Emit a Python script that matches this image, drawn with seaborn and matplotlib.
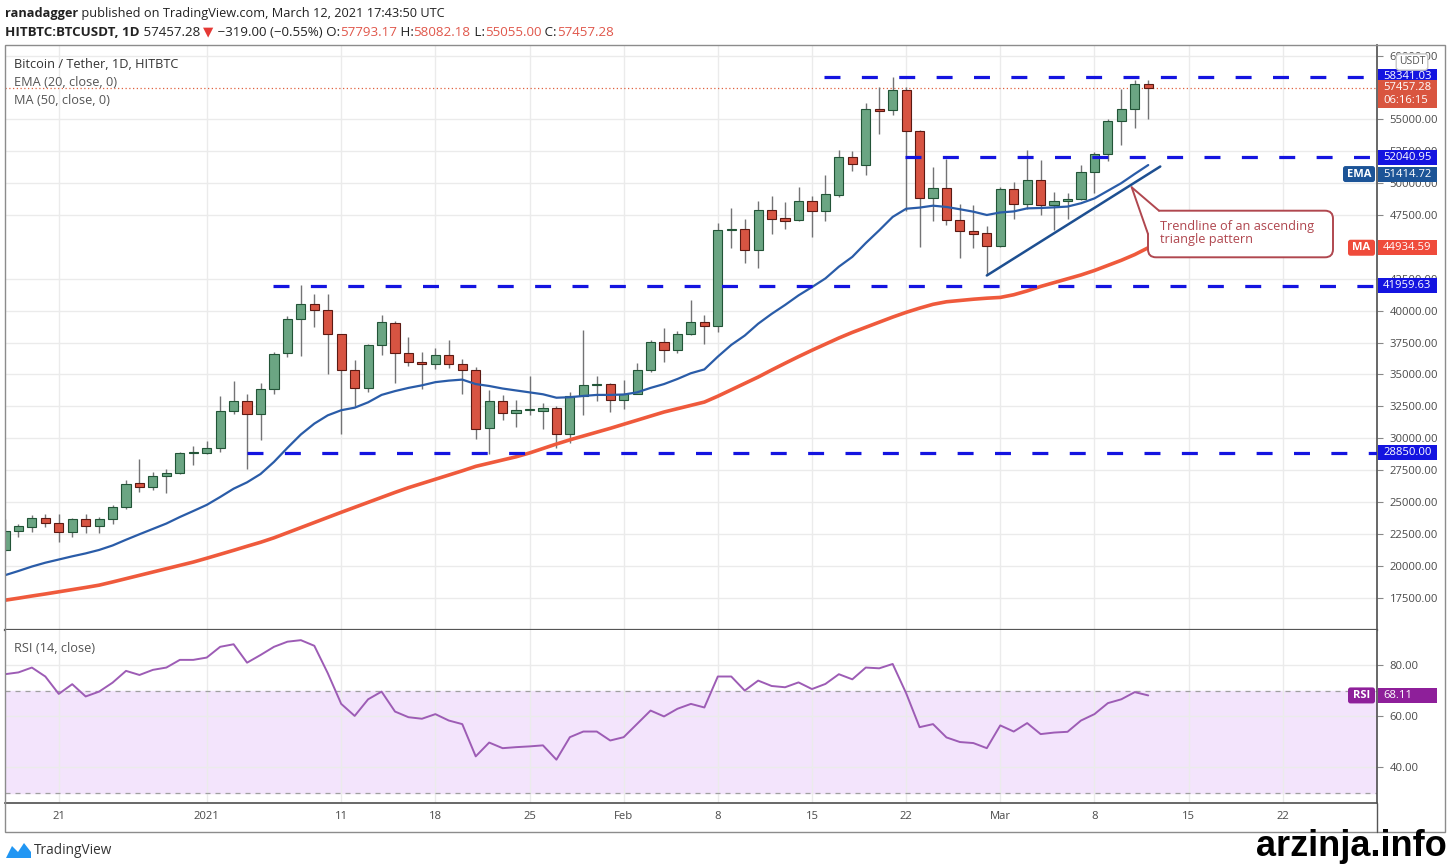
import numpy as np
import pandas as pd
import matplotlib
matplotlib.use("Agg")
import matplotlib.pyplot as plt
import matplotlib.dates as mdates
import matplotlib.transforms as mtransforms
from matplotlib.patches import FancyBboxPatch, Polygon, Rectangle
from matplotlib.lines import Line2D
import seaborn as sns

W, H = 1451, 864
FONT = ["Open Sans", "DejaVu Sans"]

sns.set_theme(style="white")
plt.rcParams["font.family"] = FONT

# daily candles HITBTC:BTCUSDT
dates = pd.date_range("2020-12-17", "2021-03-12", freq="D")
opens = [21230, 22700, 23060, 23790, 23370, 22620, 23710, 23130, 23710, 24610,
         26490, 26180, 27020, 27280, 28880, 28850, 29240, 32110, 32900, 31880,
         33890, 36680, 39370, 40540, 40070, 38140, 35320, 33970, 37280, 39030,
         36710, 35980, 35790, 36550, 35790, 35380, 30810, 32920, 31980, 32190,
         32140, 32400, 30370, 33290, 34150, 34230, 32980, 33500, 35320, 37540,
         36890, 38200, 39110, 38770, 46290, 46420, 44720, 47900, 47250, 47120,
         48560, 47800, 49030, 52030, 51430, 55820, 55740, 57310, 54050, 48820,
         49630, 47070, 46230, 46080, 45060, 49550, 48370, 50270, 48300, 48610,
         48770, 50900, 52280, 54850, 55820, 57793.17]
highs = [23700, 23300, 24000, 24050, 24030, 23760, 24030, 23840, 24740, 26700,
         28360, 27350, 27570, 28950, 29430, 29800, 33290, 34500, 33500, 34330,
         36800, 39600, 41980, 41330, 41330, 38200, 36100, 37400, 39700, 39200,
         37900, 36800, 37100, 37700, 36200, 35600, 33760, 33400, 33000, 34850,
         32800, 32560, 33600, 38460, 34900, 34300, 34600, 35900, 37700, 38640,
         38400, 40860, 39700, 46850, 48060, 47210, 48620, 49000, 48500, 49700,
         49000, 50600, 52600, 52540, 56270, 57510, 58290, 57500, 54200, 51300,
         51900, 48370, 48300, 46600, 49700, 50100, 52600, 51800, 49300, 49200,
         51400, 52400, 55000, 57400, 58100, 58082.18]
lows = [21150, 22270, 22670, 23060, 21880, 22300, 22560, 22600, 23320, 24480,
        25800, 25980, 25750, 27200, 27900, 28800, 28900, 31900, 27630, 29840,
        33500, 36400, 36420, 38700, 35010, 30370, 32500, 33600, 36500, 34300,
        35700, 33900, 35400, 35500, 33500, 29980, 28800, 31400, 30900, 31800,
        30700, 29240, 29600, 31800, 32900, 32100, 32300, 33450, 35200, 35970,
        36700, 38060, 37400, 38300, 44930, 43700, 43350, 46020, 46400, 47000,
        45740, 47000, 48900, 50910, 50650, 53860, 55370, 47800, 44980, 47000,
        46700, 44100, 44900, 42760, 45000, 47200, 48000, 47500, 46300, 47200,
        48700, 49200, 51700, 53000, 54300, 55055.00]
closes = [22740, 23110, 23790, 23370, 22620, 23710, 23130, 23650, 24610, 26440,
          26180, 27020, 27310, 28880, 28960, 29270, 32110, 32900, 31880, 33890,
          36630, 39370, 40540, 40070, 38140, 35320, 33970, 37280, 39110, 36710,
          35980, 35790, 36550, 35790, 35380, 30760, 32920, 31980, 32190, 32300,
          32400, 30370, 33290, 34150, 34290, 33030, 33500, 35380, 37540, 36890,
          38200, 39110, 38770, 46350, 46420, 44720, 47900, 47200, 47010, 48560,
          47800, 49160, 52030, 51510, 55820, 55680, 57310, 54050, 48820, 49630,
          47070, 46230, 46030, 45060, 49550, 48370, 50270, 48300, 48610, 48770,
          50900, 52280, 54850, 55820, 57730, 57457.28]

# indicators as drawn on the chart
ema20 = [19270, 19600, 19950, 20250, 20500, 20750, 20980, 21250, 21600, 22050,
         22480, 22900, 23320, 23830, 24300, 24780, 25400, 26050, 26550, 27200,
         28150, 29250, 30300, 31150, 31800, 32200, 32400, 32820, 33400, 33700,
         33950, 34150, 34400, 34520, 34600, 34250, 34100, 33900, 33750, 33600,
         33450, 33180, 33220, 33320, 33400, 33400, 33430, 33600, 33950, 34250,
         34650, 35100, 35400, 36400, 37320, 38050, 38980, 39750, 40450, 41200,
         41850, 42530, 43450, 44220, 45300, 46300, 47350, 47990, 48080, 48230,
         48130, 47950, 47760, 47500, 47700, 47780, 48020, 48050, 48100, 48160,
         48420, 48800, 49400, 50000, 50720, 51414.72]
ma50 = [17310, 17470, 17640, 17800, 17970, 18140, 18310, 18490, 18740, 19000,
        19260, 19520, 19780, 20040, 20300, 20600, 20910, 21220, 21540, 21850,
        22200, 22600, 23000, 23400, 23800, 24200, 24590, 24980, 25370, 25760,
        26130, 26460, 26790, 27120, 27450, 27800, 28050, 28300, 28550, 28850,
        29200, 29550, 29880, 30180, 30480, 30780, 31100, 31420, 31740, 32060,
        32320, 32580, 32840, 33300, 33800, 34300, 34800, 35350, 35880, 36400,
        36900, 37380, 37860, 38300, 38700, 39100, 39500, 39870, 40200, 40500,
        40700, 40800, 40900, 40980, 41040, 41250, 41550, 41900, 42200, 42500,
        42800, 43150, 43550, 43950, 44400, 44934.59]
rsi14 = [76.4, 77.1, 79.0, 75.5, 68.7, 72.5, 67.7, 69.6, 73.1, 77.7,
         76.1, 78.1, 79.0, 82.0, 82.0, 82.9, 87.1, 88.1, 80.9, 83.9,
         87.1, 89.1, 89.7, 87.5, 76.8, 64.8, 60.1, 66.6, 69.6, 61.8,
         59.6, 59.0, 60.8, 58.3, 56.9, 44.3, 49.7, 47.5, 47.9, 48.2,
         48.6, 43.0, 51.8, 54.0, 54.0, 50.5, 51.8, 57.0, 62.2, 59.9,
         62.9, 64.8, 63.4, 75.5, 75.5, 70.0, 73.9, 71.8, 71.3, 73.2,
         70.6, 72.6, 76.4, 74.4, 79.0, 78.7, 80.4, 69.0, 55.7, 56.9,
         51.7, 49.9, 49.5, 47.5, 56.4, 54.0, 57.3, 53.0, 53.6, 53.9,
         58.3, 60.8, 65.1, 66.6, 69.4, 68.11]

# horizontal levels drawn by the author
levels = [58341.03, 52040.95, 41959.63, 28850.00]
level_start = ["2021-02-15 22:00", "2021-02-21 22:00", "2021-01-05 22:00", "2021-01-04 00:00"]
trend_x = ["2021-02-28 00:00", "2021-03-12 21:30"]
trend_y = [42760, 51300]

price_ticks = [17500, 20000, 22500, 25000, 27500, 30000, 32500, 35000, 37500,
               40000, 42500, 47500, 50000, 52500, 55000, 60000]
tick_dates = ["2020-12-21", "2021-01-01", "2021-01-11", "2021-01-18", "2021-01-25",
              "2021-02-01", "2021-02-08", "2021-02-15", "2021-02-22", "2021-03-01",
              "2021-03-08", "2021-03-15", "2021-03-22"]
tick_labels = ["21", "2021", "11", "18", "25", "Feb", "8", "15", "22", "Mar", "8", "15", "22"]

UP, DOWN = "#6ba583", "#d75442"
UP_EDGE, DOWN_EDGE = "#225437", "#5b1a13"
LEVEL_BLUE = "#1414e0"
TXT = "#4a4a4a"

xs = mdates.date2num(dates)
o, h, l, c = map(np.array, (opens, highs, lows, closes))

fig = plt.figure(figsize=(W / 100, H / 100), dpi=100)
fig.patch.set_facecolor("white")
pix = mtransforms.IdentityTransform()


def fx(px):
    return px / W


def fy(py):
    return 1 - py / H


def dnum(s):
    return mdates.date2num(pd.Timestamp(s))


LEFT, RIGHT = 4.7, 1377
TOP, MID, BOT, FRAME_B = 45, 630, 802.7, 831.7
ax = fig.add_axes([fx(LEFT), fy(MID), (RIGHT - LEFT) / W, (MID - TOP) / H])
axr = fig.add_axes([fx(LEFT), fy(BOT), (RIGHT - LEFT) / W, (BOT - MID) / H], sharex=ax)

x_left = xs[0] - 0.02
x_right = x_left + (RIGHT - LEFT) / 13.45

tick_x = [dnum(d) for d in tick_dates]
for a in (ax, axr):
    a.set_facecolor("white")
    a.set_xticks(tick_x)
    a.grid(True, color="#ebebeb", lw=1)
    a.set_axisbelow(True)
    a.yaxis.tick_right()
    for s in ("top", "left"):
        a.spines[s].set_visible(False)
    for s in ("right", "bottom"):
        a.spines[s].set_color("#555555")
    a.tick_params(axis="y", colors="#888888", labelcolor=TXT, labelsize=8.1,
                  length=4, pad=5, width=0.8)

# candles
up = c >= o
ax.vlines(xs, l, h, color="#737375", lw=1, zorder=3)
ax.bar(xs[up], (c - o)[up], bottom=o[up], width=0.68, color=UP,
       edgecolor=UP_EDGE, lw=0.8, zorder=4)
ax.bar(xs[~up], (o - c)[~up], bottom=c[~up], width=0.68, color=DOWN,
       edgecolor=DOWN_EDGE, lw=0.8, zorder=4)

sns.lineplot(x=xs, y=ma50, ax=ax, color="#ef5a3c", lw=2.6, legend=False, zorder=5)
sns.lineplot(x=xs, y=ema20, ax=ax, color="#2a5ca8", lw=1.6, legend=False, zorder=5)

ax.axhline(57457.28, color="#e0603f", lw=0.9, ls=(0, (1, 2)), zorder=2)
for lvl, start in zip(levels, level_start):
    ax.plot([dnum(start), x_right], [lvl, lvl], color=LEVEL_BLUE, lw=2.3,
            ls=(0, (5, 6.7)), zorder=6)
ax.plot([dnum(t) for t in trend_x], trend_y, color="#1d4f91", lw=1.8, zorder=6)
ax.set_xlabel("")
ax.set_ylabel("")
ax.set_xlim(x_left, x_right)
ax.set_ylim(14976, 60823)
ax.set_yticks(price_ticks)
ax.set_yticklabels([f"{v:.2f}" for v in price_ticks])
ax.tick_params(axis="x", length=0, labelbottom=False)
ax.spines["bottom"].set_linewidth(1.6)

# RSI panel
axr.axhspan(30, 70, color="#f3e4fc", zorder=0)
for v in (30, 70):
    axr.axhline(v, color="#a0a0a0", lw=0.9, ls=(0, (4, 4)), zorder=1)
sns.lineplot(x=xs, y=rsi14, ax=axr, color="#9d5cb5", lw=1.4, legend=False, zorder=5)
axr.set_xlabel("")
axr.set_ylabel("")
axr.set_xlim(x_left, x_right)
axr.set_ylim(26.2, 93.67)
axr.set_yticks([40, 60, 80])
axr.set_yticklabels(["40.00", "60.00", "80.00"])
axr.set_xticks(tick_x)
axr.set_xticklabels(tick_labels)
axr.tick_params(axis="x", colors="#888888", labelcolor=TXT, labelsize=8.1,
                length=4, pad=2, width=0.8)
ax.grid(True, color="#ebebeb", lw=1)
axr.grid(True, color="#ebebeb", lw=1)


def tag(a, y, lines, fc, left=None, shift=0):
    # value box on the price scale, fixed width like TradingView
    py = a.transData.transform((x_left, y))[1] - shift
    hgt = 15 if len(lines) == 1 else 28
    top = py + 7.5
    fig.add_artist(Rectangle((1378, top - hgt), 59, hgt, fc=fc, ec="none",
                             transform=pix, zorder=4))
    for i, txt in enumerate(lines):
        fig.text(fx(1383), (top - 7.5 - 13 * i) / H, txt, fontsize=8.1, color="white",
                 ha="left", va="center", zorder=5)
    if left:
        wdt = 32 if left == "EMA" else 27
        fig.add_artist(FancyBboxPatch((1375 - wdt, py - 8), wdt, 16,
                                      boxstyle="round,pad=0,rounding_size=2.5", fc=fc,
                                      ec="none", transform=pix, zorder=4))
        fig.text(fx(1375 - wdt / 2), py / H, left, fontsize=8, color="white", weight="bold",
                 ha="center", va="center", zorder=5)


tag(ax, 58341.03, ["58341.03"], LEVEL_BLUE)
tag(ax, 57457.28, ["57457.28", "06:16:15"], "#d9553f")
tag(ax, 52040.95, ["52040.95"], LEVEL_BLUE)
tag(ax, 51414.72, ["51414.72"], "#1c5497", "EMA", shift=9)
tag(ax, 44934.59, ["44934.59"], "#ef4b3b", "MA")
tag(ax, 41959.63, ["41959.63"], LEVEL_BLUE)
tag(ax, 28850.00, ["28850.00"], LEVEL_BLUE)
tag(axr, 68.11, ["68.11"], "#8e1f9a", "RSI")

fig.text(fx(1412), fy(62), "USDT", fontsize=7.5, color="#555555", ha="center", va="center",
         zorder=6, bbox=dict(boxstyle="round,pad=0.25,rounding_size=0.3", fc="white", ec="#c8c8c8"))

# frame and axis lines in pixel space
fig.add_artist(Rectangle((LEFT, H - FRAME_B), 1445 - LEFT, FRAME_B - TOP, fill=False,
                         ec="#8c8c8c", lw=1, transform=pix))
fig.add_artist(Line2D([RIGHT, RIGHT], [H - BOT, H - FRAME_B], color="#555555", lw=1, transform=pix))

# callout
EDGE = "#b0474f"
box = FancyBboxPatch((1148, H - 257.3), 185, 46.6, boxstyle="round,pad=0,rounding_size=8",
                     fc="white", ec=EDGE, lw=1.4, transform=pix, zorder=5)
fig.add_artist(box)
fig.add_artist(Polygon([(1131.7, H - 187.3), (1159, H - 210.2), (1148.6, H - 234)],
                       closed=True, fc="white", ec="none", transform=pix, zorder=6))
fig.add_artist(Line2D([1131.7, 1159], [H - 187.3, H - 210.7], color=EDGE, lw=1.4,
                      transform=pix, zorder=7))
fig.add_artist(Line2D([1131.7, 1148], [H - 187.3, H - 234], color=EDGE, lw=1.4,
                      transform=pix, zorder=7))
fig.text(fx(1160), fy(226.5), "Trendline of an ascending", fontsize=9.2, color=EDGE,
         va="center", zorder=8)
fig.text(fx(1160), fy(240), "triangle pattern", fontsize=9.2, color=EDGE,
         va="center", zorder=8)

# legend texts
fig.text(fx(14), fy(64), "Bitcoin / Tether, 1D, HITBTC", fontsize=9.2, color="#333333", va="center")
fig.text(fx(14), fy(82), "EMA (20, close, 0)", fontsize=9.2, color="#555555", va="center")
fig.text(fx(14), fy(100), "MA (50, close, 0)", fontsize=9.2, color="#555555", va="center")
fig.text(fx(14), fy(648), "RSI (14, close)", fontsize=9.2, color="#555555", va="center")

# header
renderer = fig.canvas.get_renderer()


def seq_text(x_px, y_px, pieces, size=9.6):
    x = x_px
    for txt, color, weight in pieces:
        t = fig.text(fx(x), fy(y_px), txt, fontsize=size, color=color, weight=weight,
                     ha="left", va="center")
        x += t.get_window_extent(renderer=renderer).width


DARK, RED = "#222222", "#e0574b"
seq_text(5, 14, [("ranadagger", DARK, "bold"),
                 (" published on TradingView.com, March 12, 2021 17:43:50 UTC", DARK, "normal")],
         size=9.2)
seq_text(5, 32, [("HITBTC:BTCUSDT, 1D", DARK, "bold"), (" 57457.28 ", DARK, "normal"),
                 ("▼", "#e53935", "normal"), (" \u2212319.00 (\u22120.55%) O:", DARK, "normal"),
                 ("57793.17", RED, "normal"), (" H:", DARK, "normal"),
                 ("58082.18", RED, "normal"), (" L:", DARK, "normal"),
                 ("55055.00", RED, "normal"), (" C:", DARK, "normal"),
                 ("57457.28", RED, "normal")])

# footer
fig.add_artist(Polygon([(6, H - 858), (12, H - 846), (18, H - 852), (24, H - 843),
                        (31, H - 852), (31, H - 858)], closed=True, fc="#2196f3",
                       ec="none", transform=pix))
fig.text(fx(34), fy(851), "TradingView", fontsize=9.8, color="#333333", va="center")
fig.text(fx(1447), fy(847), "arzinja.info", fontsize=26, weight="bold", color="black",
         ha="right", va="center", family=["Liberation Sans", "DejaVu Sans"])

fig.savefig("out.png", dpi=100, facecolor="white")
